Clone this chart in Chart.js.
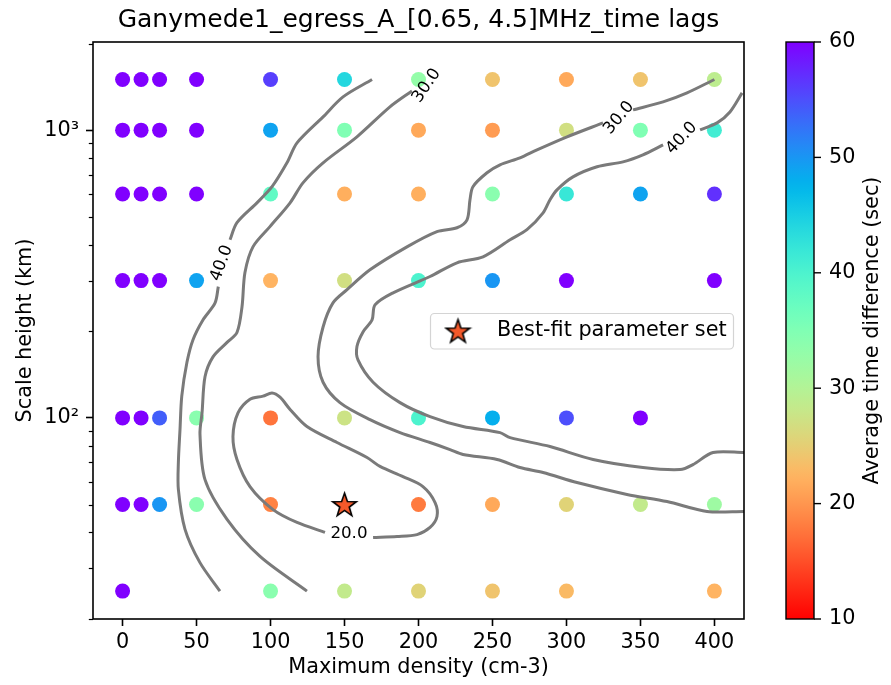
<!DOCTYPE html>
<html>
<head>
<meta charset="utf-8">
<title>Ganymede1 egress time lags</title>
<script src="https://cdn.jsdelivr.net/npm/chart.js@4.4.0/dist/chart.umd.min.js"></script>
<style>
  html, body { margin: 0; padding: 0; background: #fff; }
  canvas { display: block; }
</style>
</head>
<body>
<canvas id="chart" width="891" height="685"></canvas>
<script>
// grid of model runs
const densities = [0, 12.5, 25, 50, 100, 150, 200, 250, 300, 350, 400];
const scaleHeights = [1500, 1000, 600, 300, 100, 50, 25];
// one row per scale height, null = no run there
const timeDiffs = [
  [60, 60, 60, 60, 56, 44, 33, 24, 21.5, 24, 29],
  [60, 60, 60, 60, 49, 35, 21.5, 20.5, 27, 35, 41],
  [60, 60, 60, 60, 38, 22, 22, 34, 42, 49, 57],
  [60, 60, 60, 49, 22.5, 27, 40, 50, 60, null, 60],
  [60, 60, 54, 34, 17.5, 27.5, 40, 48, 55, 60, null],
  [60, 60, 50, 34, 18.5, null, 18, 21.5, 25.5, 28.5, 32],
  [60, null, null, null, 34, 28.5, 25.5, 24, 23, null, 22.5]
];
const bestFit = { x: 150, y: 50 };

// contour paths [density, scale height], split where the inline label sits
const c40LeftUpper = [[168.6, 1500], [149.0, 1305], [135.5, 1112], [117.9, 903], [111.1, 770], [101.0, 636], [90.8, 559], [77.3, 477], [72.6, 416]];
const c40LeftLower = [[64.7, 286], [62.5, 251], [54.3, 219], [47.6, 187], [43.5, 156], [40.0, 119], [38.8, 91], [37.7, 70], [37.7, 56.4], [42.2, 41], [52.3, 31.4], [65.8, 25]];
const c30Left = [[195.6, 1369], [180.7, 1205], [158.4, 948], [135.5, 770], [121.9, 656], [113.2, 559], [99.6, 462], [88.1, 393], [82.7, 320], [80.7, 243], [77.3, 198], [70.6, 183], [61.1, 163], [55.7, 139], [53.7, 104], [52.3, 88], [55.7, 61], [70.6, 44.4], [92.9, 33], [124.6, 25]];
const c30RightUpper = [[400, 1500], [381.5, 1348], [365.3, 1254], [345.0, 1176]];
const c30RightLower = [[324.7, 1060], [300.4, 948], [280.1, 854], [268.6, 801], [255.1, 758], [246.3, 711], [236.8, 636], [234.8, 573], [232.8, 488], [226.0, 458], [212.5, 444], [192.2, 393], [167.2, 327], [151.7, 279], [142.2, 251], [135.5, 207], [132.1, 163], [135.5, 133], [146.9, 113], [167.2, 98.6], [187.5, 88.9], [207.8, 82.1], [221.3, 77.6], [230.1, 74.6], [253.1, 71.7], [268.6, 67.2], [284.2, 64.6], [307.1, 59.6], [340.9, 54.2], [368.0, 51.2], [395.0, 47.3], [420, 47.3]];
const c40RightUpper = [[418.7, 1348], [410.5, 1157], [401.8, 1060], [390.3, 1002]];
const c40RightLower = [[365.3, 889], [351.7, 821], [338.2, 776], [320.7, 746], [304.4, 688], [293.6, 620], [288.9, 573], [284.2, 516], [273.3, 451], [261.9, 416], [243.6, 363], [226.0, 346], [207.8, 310], [182.8, 272], [170.6, 247], [168.6, 219], [162.5, 199], [158.4, 177], [159.1, 159], [169.3, 133], [187.5, 113], [207.8, 101], [230.1, 93.3], [255.1, 88.9], [261.9, 85.4], [288.9, 79.5], [318.0, 71.7], [351.7, 67.2], [376.8, 66.1], [385.5, 68.8], [399.1, 75.8], [420, 75.8]];
const c20 = [[169.3, 38.4], [185.5, 38.7], [199.0, 39.3], [207.8, 41.6], [212.5, 45.4], [211.2, 50.8], [203.0, 57.7], [189.5, 62.5], [174.0, 67.8], [165.2, 72.8], [144.9, 82.1], [124.6, 93.3], [113.2, 107], [106.4, 118], [101.0, 122], [94.9, 119], [86.1, 116], [78.0, 104], [74.6, 86.1], [77.3, 71.7], [86.1, 57.7], [101.7, 48.0], [117.9, 43.3], [136.8, 40.0]];

// inline contour labels: text, density, scale height, rotation (deg)
const contourLabels = [
  ['40.0', 67.0, 345, -70],
  ['30.0', 205.5, 1429, -56],
  ['30.0', 335.5, 1103, -50],
  ['40.0', 377.9, 938, -47],
  ['20.0', 153.0, 39.7, 0]
];

const xTicks = [0, 50, 100, 150, 200, 250, 300, 350, 400];
const yMajor = [100, 1000];
const yMinor = [20, 30, 40, 50, 60, 70, 80, 90, 200, 300, 400, 500, 600, 700, 800, 900, 2000];
const cbTicks = [10, 20, 30, 40, 50, 60];

const FONT = 'DejaVu Sans';

// matplotlib "rainbow" reversed, 10 (red) .. 60 (purple)
function rainbowR(v) {
  const t = Math.min(1, Math.max(0, (60 - v) / 50));
  const r = Math.min(1, Math.abs(2 * t - 0.5));
  const g = Math.sin(Math.PI * t);
  const b = Math.cos(Math.PI * t / 2);
  return `rgb(${Math.round(r * 255)},${Math.round(g * 255)},${Math.round(b * 255)})`;
}

function makeStar(r) {
  const c = document.createElement('canvas');
  const s = Math.ceil(r * 2 + 4) | 1;
  c.width = c.height = s;
  const g = c.getContext('2d');
  g.beginPath();
  for (let i = 0; i < 10; i++) {
    const rr = i % 2 === 0 ? r : r * 0.4;
    const a = -Math.PI / 2 + i * Math.PI / 5;
    g.lineTo(s / 2 + rr * Math.cos(a), s / 2 + 1 + rr * Math.sin(a));
  }
  g.closePath();
  g.fillStyle = '#f4592a';
  g.fill();
  g.lineWidth = 1.6;
  g.strokeStyle = '#000';
  g.stroke();
  return c;
}
const starImg = makeStar(12.4);

const gridPts = [];
scaleHeights.forEach((h, i) => {
  densities.forEach((d, j) => {
    const v = timeDiffs[i][j];
    if (v !== null) gridPts.push({ x: d, y: h, v: v });
  });
});

function contourSet(path) {
  return {
    data: path.map(p => ({ x: p[0], y: p[1] })),
    showLine: true,
    borderColor: '#7a7a7a',
    borderWidth: 3,
    pointRadius: 0,
    tension: 0.3,
    fill: false,
    order: 1
  };
}

const decor = {
  id: 'decor',
  afterDatasetsDraw(chart) {
    const { ctx, scales: { x, y } } = chart;
    ctx.save();
    ctx.fillStyle = '#000';
    ctx.font = `16.7px "${FONT}"`;
    ctx.textAlign = 'center';
    ctx.textBaseline = 'middle';
    contourLabels.forEach(([txt, dx, dy, rot]) => {
      ctx.save();
      ctx.translate(x.getPixelForValue(dx), y.getPixelForValue(dy));
      ctx.rotate(rot * Math.PI / 180);
      ctx.fillText(txt, 0, 0);
      ctx.restore();
    });
    ctx.restore();
  },
  afterDraw(chart) {
    const { ctx, chartArea: a, scales: { y, cb } } = chart;
    ctx.save();

    // minor ticks on the log axis
    ctx.strokeStyle = '#000';
    ctx.lineWidth = 1.2;
    yMinor.forEach(v => {
      const py = Math.round(y.getPixelForValue(v)) + 0.5;
      ctx.beginPath();
      ctx.moveTo(a.left, py);
      ctx.lineTo(a.left - 4.2, py);
      ctx.stroke();
    });

    // frame
    ctx.lineWidth = 1.6;
    ctx.strokeRect(a.left, a.top, a.right - a.left, a.bottom - a.top);

    // colorbar
    const cbL = 786, cbR = 814;
    const top = cb.getPixelForValue(60), bot = cb.getPixelForValue(10);
    const grad = ctx.createLinearGradient(0, bot, 0, top);
    for (let i = 0; i <= 50; i++) grad.addColorStop(i / 50, rainbowR(10 + i));
    ctx.fillStyle = grad;
    ctx.fillRect(cbL, top, cbR - cbL, bot - top);
    ctx.lineWidth = 1.4;
    ctx.strokeRect(cbL, top, cbR - cbL, bot - top);
    ctx.fillStyle = '#000';
    ctx.font = `20.8px "${FONT}"`;
    ctx.textAlign = 'left';
    ctx.textBaseline = 'middle';
    cbTicks.forEach(v => {
      const py = cb.getPixelForValue(v);
      ctx.beginPath();
      ctx.moveTo(cbR, py);
      ctx.lineTo(cbR + 7, py);
      ctx.stroke();
      ctx.fillText(String(v), cbR + 15, py);
    });
    ctx.save();
    ctx.translate(873, (top + bot) / 2);
    ctx.rotate(-Math.PI / 2);
    ctx.textAlign = 'center';
    ctx.fillText('Average time difference (sec)', 0, 0);
    ctx.restore();

    // legend
    ctx.beginPath();
    ctx.roundRect(430.5, 313.5, 303, 35.5, 4);
    ctx.fillStyle = 'rgba(255,255,255,0.85)';
    ctx.fill();
    ctx.strokeStyle = '#d4d4d4';
    ctx.lineWidth = 1.2;
    ctx.stroke();
    ctx.drawImage(starImg, 458 - starImg.width / 2, 331 - starImg.height / 2);
    ctx.fillStyle = '#000';
    ctx.textAlign = 'left';
    ctx.fillText('Best-fit parameter set', 497, 331);
    ctx.restore();
  }
};

const tickFont = { family: FONT, size: 20.8 };

new Chart(document.getElementById('chart'), {
  type: 'scatter',
  data: {
    datasets: [
      {
        data: [bestFit],
        pointStyle: starImg,
        pointRadius: 12,
        order: 0
      },
      contourSet(c40LeftUpper),
      contourSet(c40LeftLower),
      contourSet(c30Left),
      contourSet(c30RightUpper),
      contourSet(c30RightLower),
      contourSet(c40RightUpper),
      contourSet(c40RightLower),
      contourSet(c20),
      {
        data: gridPts,
        backgroundColor: gridPts.map(p => rainbowR(p.v)),
        pointRadius: 7.5,
        borderWidth: 0,
        order: 2
      }
    ]
  },
  options: {
    responsive: false,
    animation: false,
    devicePixelRatio: 1,
    layout: { padding: { left: 0, right: 54, top: 0, bottom: 0 } },
    plugins: {
      legend: { display: false },
      tooltip: { enabled: false },
      title: {
        display: true,
        text: 'Ganymede1_egress_A_[0.65, 4.5]MHz_time lags',
        color: '#000',
        font: { family: FONT, size: 25, weight: 'normal' },
        padding: { top: 5, bottom: 7 }
      }
    },
    scales: {
      x: {
        type: 'linear',
        min: -20,
        max: 420,
        afterBuildTicks: s => { s.ticks = xTicks.map(v => ({ value: v })); },
        afterFit: s => { s.height = 66; },
        ticks: { font: tickFont, color: '#000', padding: 4, maxRotation: 0, autoSkip: false },
        grid: { drawOnChartArea: false, tickLength: 7, tickWidth: 1.6, tickColor: '#000' },
        border: { display: false },
        title: {
          display: true,
          text: 'Maximum density (cm-3)',
          color: '#000',
          font: tickFont,
          padding: { top: 0, bottom: 5 }
        }
      },
      y: {
        type: 'logarithmic',
        min: 20,
        max: 2025,
        afterBuildTicks: s => { s.ticks = yMajor.map(v => ({ value: v, major: true })); },
        afterFit: s => { s.width = 93; },
        ticks: {
          font: tickFont,
          color: '#000',
          padding: 7,
          autoSkip: false,
          callback: v => (v === 100 ? '10²' : v === 1000 ? '10³' : '')
        },
        grid: { drawOnChartArea: false, tickLength: 7, tickWidth: 1.6, tickColor: '#000' },
        border: { display: false },
        title: {
          display: true,
          text: 'Scale height (km)',
          color: '#000',
          font: tickFont,
          padding: { top: 13, bottom: 0 }
        }
      },
      cb: {
        type: 'linear',
        position: 'right',
        min: 10,
        max: 60,
        afterFit: s => { s.width = 93; },
        ticks: { display: false },
        grid: { display: false },
        border: { display: false }
      }
    }
  },
  plugins: [decor]
});
</script>
</body>
</html>
